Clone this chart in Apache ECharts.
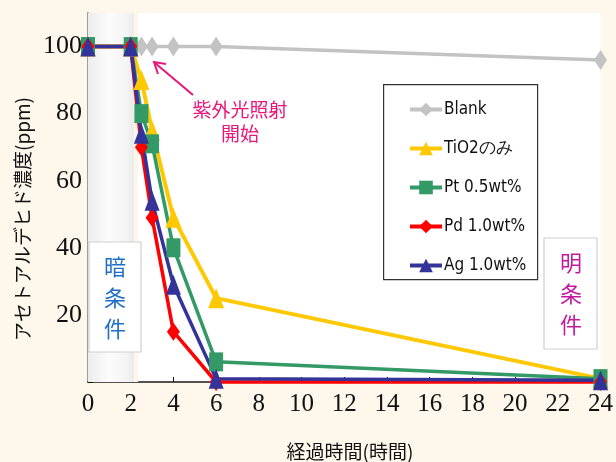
<!DOCTYPE html>
<html><head><meta charset="utf-8">
<script src="https://cdn.jsdelivr.net/npm/echarts@6/dist/echarts.min.js"></script>
<style>html,body{margin:0;padding:0;background:#fdf7ec;}#c{width:616px;height:462px;}</style>
</head><body><div id="c"></div>
<script>
const hours = [0, 2, 2.5, 3, 4, 6, 24];
const blank = [100, 100, 100, 100, 100, 100, 96];
const tio2 = [100, 100, 90, 75, 49, 25, 1];
const pt = [100, 100, 80, 71, 40, 6, 1];
const pd = [100, 100, 70, 49, 15, 0, 0];
const ag = [100, 100, 74, 54, 29, 1, 0.5];
const seriesNames = ['Blank', 'TiO2のみ', 'Pt 0.5wt%', 'Pd 1.0wt%', 'Ag 1.0wt%'];
const xTicks = [0,2,4,6,8,10,12,14,16,18,20,22,24];
const yTicks = [20,40,60,80,100];
const darkPeriod = [0, 2.15];

const pair = arr => hours.map((h, i) => [h, arr[i]]);
const chart = echarts.init(document.getElementById('c'), null, {renderer:'canvas'});
const serif = 'Liberation Serif';
const narrow = '"DejaVu Sans Condensed", "Liberation Sans", sans-serif';
const cjk = 'Noto Sans CJK JP';

function mk(name, data, color, symbol, size, width, extra) {
  return Object.assign({
    name, type:'line', data: pair(data), color, symbol, symbolSize: size,
    clip:false, lineStyle:{width: width, color}, itemStyle:{color},
    emphasis:{disabled:true}, animation:false
  }, extra || {});
}

chart.setOption({
  backgroundColor:'#fdf7ec',
  animation:false,
  grid:{left:88, right:15, top:13, bottom:80, show:true, backgroundColor:'#ffffff', borderWidth:0},
  xAxis:[{
    type:'value', min:0, max:24, interval:2,
    axisLine:{show:true, onZero:false, lineStyle:{color:'#111', width:1.5}},
    axisTick:{show:true, inside:true, length:5, lineStyle:{color:'#111'}},
    splitLine:{show:false},
    axisLabel:{fontFamily:serif, fontSize:25, color:'#111', margin:10,
      formatter: v => xTicks.includes(v) ? String(v) : ''}
  },{
    type:'value', min:0, max:24, position:'top',
    axisLine:{show:true, lineStyle:{color:'#555', width:1.5}},
    axisTick:{show:false}, axisLabel:{show:false}, splitLine:{show:false}
  }],
  yAxis:[{
    type:'value', min:0, max:110, interval:20,
    axisLine:{show:true, onZero:false, lineStyle:{color:'#111', width:1.5}},
    axisTick:{show:true, inside:true, length:5, lineStyle:{color:'#111'}},
    splitLine:{show:false},
    axisLabel:{fontFamily:serif, fontSize:26, color:'#111', margin:6,
      formatter: v => yTicks.includes(v) ? String(v) : ''}
  },{
    type:'value', min:0, max:110, position:'right',
    axisLine:{show:true, lineStyle:{color:'#bbb', width:1.5}},
    axisTick:{show:false}, axisLabel:{show:false}, splitLine:{show:false}
  }],
  legend:{
    orient:'vertical', left:384, top:85, padding:[16,10,8,24],
    itemWidth:32, itemHeight:17, itemGap:22,
    data: seriesNames,
    lineStyle:{width:4},
    textStyle:{fontFamily:narrow, fontSize:17, color:'#111', padding:[0,0,0,-3]}
  },
  series:[
    mk(seriesNames[0], blank, '#c3c3c3', 'diamond', [13,20], 3.5, {
      markArea:{silent:true,
        itemStyle:{opacity:1, color:{type:'linear', x:0, y:0, x2:1, y2:0, colorStops:[
          {offset:0, color:'#ececec'}, {offset:0.45, color:'#fcfcfc'}, {offset:0.85, color:'#f4f4f4'}, {offset:1, color:'#e9e9e9'}]}},
        data:[[{xAxis:darkPeriod[0], yAxis:0},{xAxis:darkPeriod[1], yAxis:110}],
              [{xAxis:darkPeriod[1], yAxis:0, itemStyle:{color:'#fdf6ea'}},{xAxis:2.35, yAxis:110}]]
      }}),
    mk(seriesNames[1], tio2, '#ffc800', 'triangle', [16,20], 4),
    mk(seriesNames[2], pt, '#339966', 'rect', [14,19], 3.5),
    mk(seriesNames[3], pd, '#ff0000', 'diamond', [13,18], 3.5),
    mk(seriesNames[4], ag, '#333399', 'triangle', [15,20], 3.5)
  ],
  graphic:[
    {type:'rect', left:383, top:84, shape:{width:154, height:195}, style:{fill:'rgba(0,0,0,0)', stroke:'#333', lineWidth:1.2}, z:1},
    {type:'text', x:23, y:219, rotation:Math.PI/2, style:{text:'アセトアルデヒド濃度(ppm)', fontFamily:cjk, fontSize:19, fill:'#111', align:'center', verticalAlign:'middle'}},
    {type:'text', x:350, y:452, style:{text:'経過時間(時間)', fontFamily:cjk, fontSize:19, fill:'#111', align:'center', verticalAlign:'middle'}},
    {type:'rect', x:89, y:242, shape:{width:52, height:110}, style:{fill:'#ffffff', stroke:'#cfcfcf', lineWidth:1.2}, z:5},
    {type:'text', x:115, y:298, z:6, style:{text:'暗\n条\n件', fontFamily:cjk, fontSize:22, lineHeight:31, fill:'#1f6fc8', align:'center', verticalAlign:'middle'}},
    {type:'rect', x:544, y:238, shape:{width:53, height:111}, style:{fill:'#ffffff', stroke:'#cfcfcf', lineWidth:1.2}, z:5},
    {type:'text', x:571, y:294, z:6, style:{text:'明\n条\n件', fontFamily:cjk, fontSize:22, lineHeight:31, fill:'#c21a9e', align:'center', verticalAlign:'middle'}},
    {type:'text', x:240, y:110, z:6, style:{text:'紫外光照射', fontFamily:cjk, fontSize:19, fill:'#e8177a', align:'center', verticalAlign:'middle'}},
    {type:'text', x:240, y:134, z:6, style:{text:'開始', fontFamily:cjk, fontSize:19, fill:'#e8177a', align:'center', verticalAlign:'middle'}},
    {type:'polyline', z:6, shape:{points:[[193,95],[155,63]]}, style:{stroke:'#e8177a', lineWidth:2}},
    {type:'polyline', z:6, shape:{points:[[158,74],[154,62],[166,64]]}, style:{stroke:'#e8177a', lineWidth:2, fill:null}}
  ]
});
</script></body></html>
